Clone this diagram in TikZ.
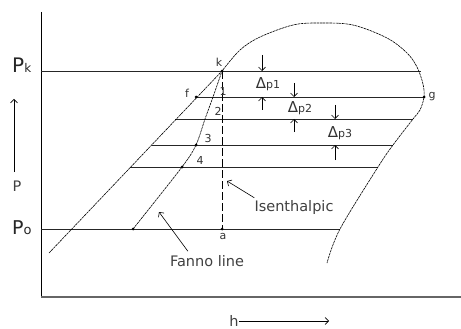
\documentclass[tikz,border=0pt]{standalone}
\usepackage{fontspec}
\setmainfont{DejaVu Sans}
\usetikzlibrary{arrows.meta}

\begin{document}
\begin{tikzpicture}[x=1pt, y=-1pt,
    lbl/.style={font=\fontsize{11}{11}\selectfont, text=black!80, inner sep=0pt},
    txt/.style={font=\fontsize{14.5}{15}\selectfont, text=black!75, inner sep=0pt},
    plbl/.style={inner sep=0pt, anchor=base west, text=black!85},
    pline/.style={line width=0.9pt, black!85},
    curve/.style={line width=0.6pt, dash pattern=on 2.5pt off 0.7pt},
    arr/.style={-{Straight Barb[length=3.5pt, width=7pt]}, line width=0.6pt},
    dot/.style={circle, fill, inner sep=0pt, minimum size=3pt}
]
\useasboundingbox (0,0) rectangle (461,329);

% axes
\coordinate (top) at (41,12);
\coordinate (origin) at (41,297);
\coordinate (right) at (461,297);
\draw[line width=1pt] (top) -- (origin);
\draw[line width=1.6pt, black!60] (origin) -- (right);

% state points
\coordinate (k) at (222,71);
\coordinate (f) at (196,97);
\coordinate (g) at (424,97);
\coordinate (a) at (222,229);
\coordinate (fo) at (133,229);
\coordinate (n1) at (213,97);
\coordinate (n2) at (205,119);
\coordinate (n3) at (196,145);
\coordinate (n4) at (182,167);
\coordinate (liq) at (49,253);

% pressure lines
\coordinate (pkl) at (41,71);   \coordinate (pkr) at (421,71);
\coordinate (l2l) at (175,119); \coordinate (l2r) at (413,119);
\coordinate (l3l) at (152,145); \coordinate (l3r) at (393,145);
\coordinate (l4l) at (130,167); \coordinate (l4r) at (378,167);
\coordinate (pol) at (41,229);  \coordinate (por) at (340,229);
\draw[pline] (pkl) -- (pkr);
\draw[pline] (f) -- (g);
\draw[pline] (l2l) -- (l2r);
\draw[pline] (l3l) -- (l3r);
\draw[pline] (l4l) -- (l4r);
\draw[pline] (pol) -- (por);

% saturation dome and fanno line
\draw[curve] (liq) -- (k) -- plot[smooth, tension=0.55] coordinates {(k) (240,50) (260,37) (293,25) (320,23) (353,25) (387,38) (407,53) (417,67) (423,84) (424,97) (420,110) (413,119) (393,145) (378,167) (340,229) (327,263)};
\draw[curve] plot[smooth] coordinates {(fo) (n4) (n3) (n2) (n1) (k)};
\draw[line width=0.9pt, dash pattern=on 8pt off 3pt] (k) -- (a);

\node[dot] (kd) at (k) {};
\node[dot] (fd) at (f) {};
\node[dot] (gd) at (g) {};
\node[dot] (ad) at (a) {};
\node[dot] (fod) at (fo) {};
\node[dot] (n3d) at (n3) {};
\node[dot] (n4d) at (n4) {};

% point labels
\node[lbl] (klbl) at (219,62) {k};
\node[lbl] (flbl) at (187,93) {f};
\node[lbl] (glbl) at (432,97) {g};
\node[lbl] (albl) at (223,236) {a};
\node[lbl] (lbl1) at (223,91) {1};
\node[lbl] (lbl2) at (218,111) {2};
\node[lbl] (lbl3) at (208,138) {3};
\node[lbl] (lbl4) at (200,160) {4};

% pressure labels
\node[plbl] (pk) at (12,73) {\fontsize{20}{20}\selectfont P\fontsize{12}{12}\selectfont k};
\node[plbl] (po) at (12,234) {\fontsize{19}{19}\selectfont P\fontsize{13}{13}\selectfont o};

% axis arrows
\coordinate (ptail) at (14,172); \coordinate (phead) at (14,99);
\draw[arr] (ptail) -- (phead);
\node[txt] (plbl) at (17,186) {P};
\node[txt] (hlbl) at (234,321) {h};
\coordinate (hhead) at (329,321);
\draw[arr] (hlbl.east) -- (hhead);

% pressure drops
\node[lbl] (dp1) at (268,84) {\fontsize{15}{15}\selectfont Δ\fontsize{11}{11}\selectfont p1};
\node[lbl] (dp2) at (300,108) {\fontsize{15}{15}\selectfont Δ\fontsize{11}{11}\selectfont p2};
\node[lbl] (dp3) at (340,133) {\fontsize{15}{15}\selectfont Δ\fontsize{11}{11}\selectfont p3};
\coordinate (d1a) at (262,55);  \coordinate (d1b) at (262,71);
\coordinate (d1c) at (262,110); \coordinate (d1d) at (262,97);
\coordinate (d2a) at (294,83);  \coordinate (d2b) at (294,97);
\coordinate (d2c) at (294,132); \coordinate (d2d) at (294,119);
\coordinate (d3a) at (335,105); \coordinate (d3b) at (335,119);
\coordinate (d3c) at (335,160); \coordinate (d3d) at (335,145);
\draw[arr] (d1a) -- (d1b);
\draw[arr] (d1c) -- (d1d);
\draw[arr] (d2a) -- (d2b);
\draw[arr] (d2c) -- (d2d);
\draw[arr] (d3a) -- (d3b);
\draw[arr] (d3c) -- (d3d);

% line names
\node[txt] (isen) at (294,207) {Isenthalpic};
\node[txt] (fanno) at (207,261) {Fanno line};
\coordinate (isenhead) at (227,181);
\coordinate (fannohead) at (159,212);
\draw[arr] (isen.north west) ++(0,-2) -- (isenhead);
\draw[arr] (fanno.north west) ++(18,-4) -- (fannohead);
\end{tikzpicture}
\end{document}
